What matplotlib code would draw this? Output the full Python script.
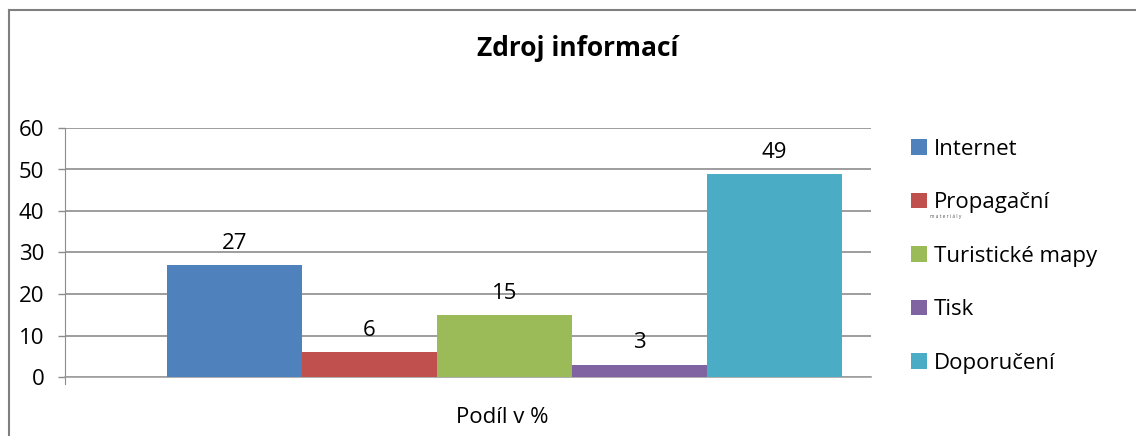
import matplotlib
matplotlib.use("Agg")
import matplotlib.pyplot as plt
from matplotlib.patches import Patch
from matplotlib.lines import Line2D
import numpy as np

plt.rcParams['font.family'] = ['Open Sans', 'DejaVu Sans']

categories = ["Internet", "Propagační", "Turistické mapy", "Tisk", "Doporučení"]
values = [27, 6, 15, 3, 49]
colors = ["#4F81BD", "#C0504D", "#9BBB59", "#8064A2", "#4BACC6"]
yticks = [0, 10, 20, 30, 40, 50, 60]
title = "Zdroj informací"
xlabel = "Podíl v %"

W, H = 1136, 436
fig = plt.figure(figsize=(W / 100, H / 100), dpi=100)
ax = fig.add_axes([65 / W, 1 - 377 / H, (871 - 65) / W, (377 - 128) / H])

n = len(values)
width = 1.0
xs = (np.arange(n) - (n - 1) / 2) * width
bars = ax.bar(xs, values, width=width, color=colors, zorder=3)
for x, v in zip(xs, values):
    ax.annotate(str(v), (x, v), xytext=(0, 8), textcoords="offset points",
                ha="center", va="bottom", fontsize=16, color="#000000")

ax.set_xlim(-3.256, 2.715)
ax.set_ylim(0, 60)
ax.set_yticks(yticks)
ax.set_yticklabels([str(t) for t in yticks], fontsize=16)
ax.set_xticks([])
ax.yaxis.grid(True, color="#8c8c8c", linewidth=1.2, zorder=0)
ax.tick_params(axis="y", length=5, width=1, color="#8c8c8c", pad=10, direction="out")
for s in ["top", "right"]:
    ax.spines[s].set_visible(False)
ax.spines["left"].set_color("#8c8c8c")
ax.spines["bottom"].set_color("#a0a0a0")
ax.spines["bottom"].set_linewidth(1.2)
ax.spines["left"].set_bounds(-1.8, 60)

fig.text(578 / W, 1 - 48 / H, title, ha="center", va="center",
         fontsize=19, fontweight="bold")
fig.text(502 / W, 1 - 417 / H, xlabel, ha="center", va="center", fontsize=16)

handles = [Patch(facecolor=c, edgecolor="none") for c in colors]
leg = fig.legend(handles, categories, loc="upper left",
                 bbox_to_anchor=(902 / W, 1 - 130 / H), frameon=False,
                 fontsize=16, handlelength=0.72, handleheight=0.72,
                 handletextpad=0.3, labelspacing=1.46, borderaxespad=0)
fig.text(930 / W, 1 - 216 / H, "m a t e r i á l y", fontsize=3.5,
         color="#555555", va="center", ha="left")

fig.add_artist(Line2D([9 / W, 9 / W], [0, 1 - 10 / H], transform=fig.transFigure,
                      color="#7f7f7f", linewidth=1.5))
fig.add_artist(Line2D([9 / W, 1], [1 - 10 / H, 1 - 10 / H], transform=fig.transFigure,
                      color="#7f7f7f", linewidth=1.5))

fig.savefig("out.png", dpi=100)
